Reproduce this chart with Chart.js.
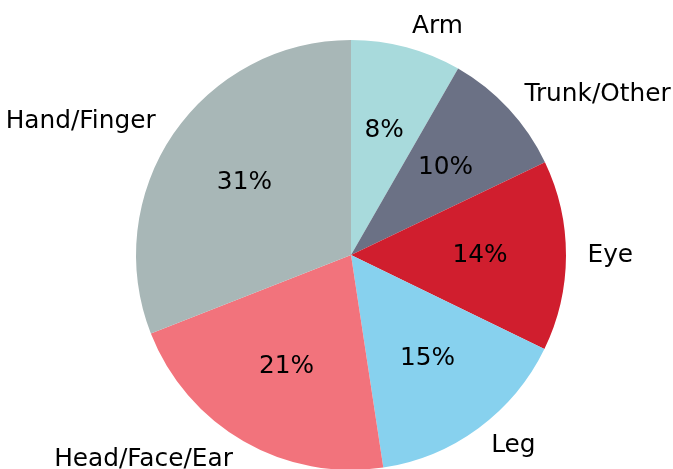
<!DOCTYPE html>
<html>
<head>
<meta charset="utf-8">
<script src="https://cdn.jsdelivr.net/npm/chart.js@4/dist/chart.umd.min.js"></script>
<style>
html,body{margin:0;padding:0;background:#fff;overflow:hidden;}
#wrap{position:absolute;left:0;top:0;width:673px;height:480px;}
</style>
</head>
<body>
<div id="wrap"><canvas id="c"></canvas></div>
<script>
const categories = ["Arm", "Trunk/Other", "Eye", "Leg", "Head/Face/Ear", "Hand/Finger"];
const shares = [8.3, 9.6, 14.3, 15.4, 21.45, 30.95];
const colors = ["#a8dadc", "#6b7185", "#d01e2e", "#87d1ee", "#f2737c", "#a8b7b7"];

const FONT = '24.8px "DejaVu Sans"';

const labelPlugin = {
  id: 'pieLabels',
  afterDatasetsDraw(chart) {
    const ctx = chart.ctx;
    const meta = chart.getDatasetMeta(0);
    const data = chart.data.datasets[0].data;
    const total = data.reduce((a, b) => a + b, 0);
    ctx.save();
    ctx.font = FONT;
    ctx.fillStyle = '#000';
    ctx.textBaseline = 'middle';
    meta.data.forEach((arc, i) => {
      const p = arc.getProps(['x', 'y', 'startAngle', 'endAngle', 'outerRadius'], true);
      const mid = (p.startAngle + p.endAngle) / 2;
      const cx = Math.cos(mid), cy = Math.sin(mid);
      const lx = p.x + cx * p.outerRadius * 1.1;
      const ly = p.y + cy * p.outerRadius * 1.1;
      ctx.textAlign = cx > 0 ? 'left' : 'right';
      ctx.fillText(chart.data.labels[i], lx, ly);
      const px = p.x + cx * p.outerRadius * 0.6;
      const py = p.y + cy * p.outerRadius * 0.6;
      ctx.textAlign = 'center';
      ctx.fillText(Math.round(data[i] / total * 100) + '%', px, py);
    });
    ctx.restore();
  }
};

new Chart(document.getElementById('c'), {
  type: 'pie',
  data: {
    labels: categories,
    datasets: [{
      data: shares,
      backgroundColor: colors,
      borderWidth: 0,
      hoverOffset: 0
    }]
  },
  options: {
    responsive: true,
    maintainAspectRatio: false,
    animation: false,
    events: [],
    layout: { padding: { left: 136, right: 107, top: 40, bottom: 10 } },
    plugins: { legend: { display: false }, tooltip: { enabled: false } }
  },
  plugins: [labelPlugin]
});
</script>
</body>
</html>
